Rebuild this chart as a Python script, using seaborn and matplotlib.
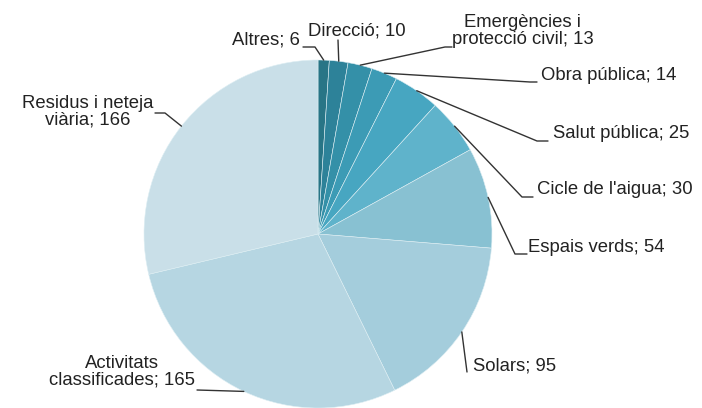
import numpy as np
import matplotlib
matplotlib.use("Agg")
import matplotlib.pyplot as plt
import seaborn as sns

# dades
categories = ["Altres", "Direcció", "Emergències i\nprotecció civil", "Obra pública",
              "Salut pública", "Cicle de l'aigua", "Espais verds", "Solars",
              "Activitats\nclassificades", "Residus i neteja\nviària"]
values = [6, 10, 13, 14, 25, 30, 54, 95, 165, 166]
colors = ["#287586", "#2d8299", "#3490a8", "#3c9bb5", "#47a6c1",
          "#5fb3cb", "#88c1d2", "#a4cddc", "#b6d6e2", "#c9dfe8"]

sns.set_style("white")
plt.rcParams['font.family'] = ['Liberation Sans', 'DejaVu Sans']

# centre i radi del pastís en píxels
CX, CY, R = 318, 234, 174
W, H = 702, 408

def px(x, y):
    return (x - CX) / R, (CY - y) / R

# posicions de les etiquetes (px): text x, text y, ha, colze, final de línia
layout = [
    (300, 40, "right", (315, 47), (303, 47)),
    (357, 31, "center", None, (338, 40)),
    (452, 31, "left", (445, 47), (452, 47)),
    (541, 76, "left", (530, 82), (537, 82)),
    (553, 134, "left", (537, 141), (548, 141)),
    (537, 190, "left", (522, 197), (533, 197)),
    (528, 247, "left", (515, 254), (527, 254)),
    (473, 366, "left", None, (467, 372)),
    (195, 372, "right", None, (197, 390)),
    (153, 112, "right", (165, 113), (155, 113)),
]

fig = plt.figure(figsize=(W / 100, H / 100), dpi=100)
ax = fig.add_axes([(CX - R) / W, (H - CY - R) / H, 2 * R / W, 2 * R / H])
ax.pie(values, colors=sns.color_palette(colors), startangle=90, counterclock=False,
       radius=1, wedgeprops=dict(edgecolor="#ddeef3", linewidth=0.4))
ax.set_xlim(-1, 1)
ax.set_ylim(-1, 1)
ax.set_axis_off()

total = sum(values)
cum = np.cumsum([0] + values[:-1])
for name, v, c, (tx, ty, ha, elbow, end) in zip(categories, values, cum, layout):
    ang = np.deg2rad(90 - 360 * (c + v / 2) / total)
    pts = [(np.cos(ang), np.sin(ang))]
    if elbow is not None:
        pts.append(px(*elbow))
    pts.append(px(*end))
    xs, ys = zip(*pts)
    ax.plot(xs, ys, color="#333333", lw=1.0, clip_on=False)
    x, y = px(tx, ty)
    ax.text(x, y, f"{name}; {v}", ha=ha, va="center", multialignment="center",
            fontsize=13.3, color="#222222", linespacing=0.95)

fig.savefig("out.png", dpi=100)
